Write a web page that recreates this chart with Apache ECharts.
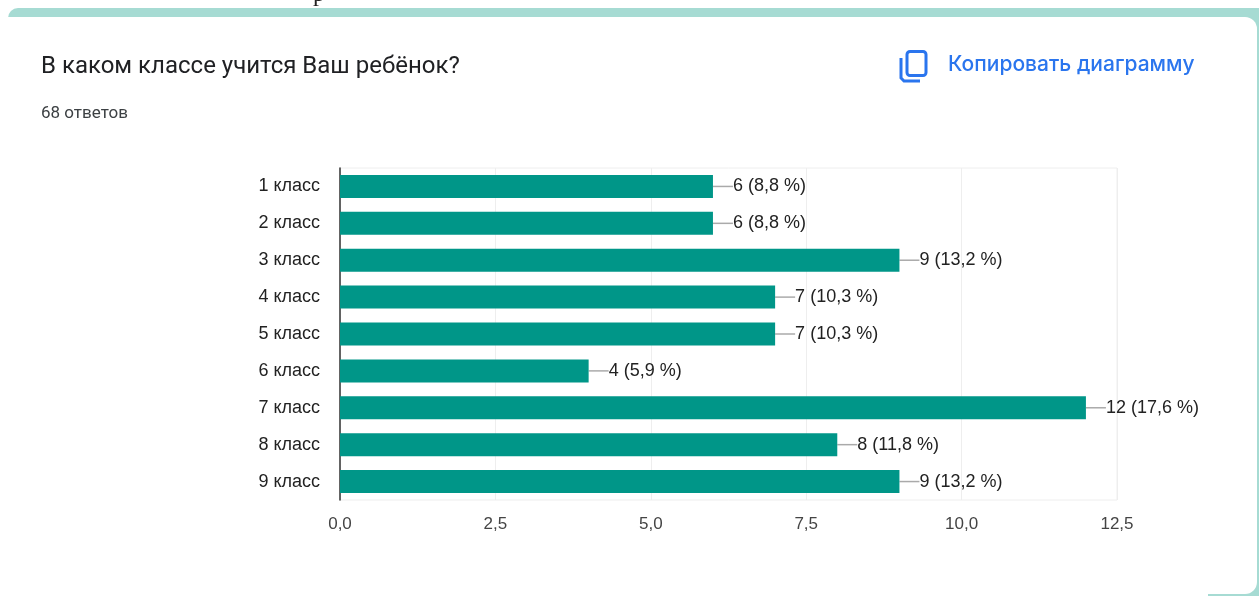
<!DOCTYPE html>
<html>
<head>
<meta charset="utf-8">
<style>
  html, body { margin: 0; padding: 0; background: #fff; }
  #chart { width: 1259px; height: 596px; }
</style>
<script src="https://cdn.jsdelivr.net/npm/echarts@6/dist/echarts.min.js"></script>
</head>
<body>
<div id="chart"></div>
<script>
var categories = ["1 класс", "2 класс", "3 класс", "4 класс", "5 класс", "6 класс", "7 класс", "8 класс", "9 класс"];
var answers = [6, 6, 9, 7, 7, 4, 12, 8, 9];
var percents = ["8,8", "8,8", "13,2", "10,3", "10,3", "5,9", "17,6", "11,8", "13,2"];
var titleText = "В каком классе учится Ваш ребёнок?";
var subtitleText = "68 ответов";
var copyText = "Копировать диаграмму";

var myChart = echarts.init(document.getElementById("chart"), null, { renderer: "canvas" });

var blue = "#2a75ee";

var option = {
  animation: false,
  backgroundColor: "#fff",
  textStyle: { fontFamily: "Liberation Sans" },
  title: [
    {
      text: titleText,
      left: 41,
      top: 55,
      padding: 0,
      textStyle: { fontFamily: "Roboto", fontSize: 24, fontWeight: 400, color: "#202124" }
    },
    {
      text: subtitleText,
      left: 41,
      top: 105,
      padding: 0,
      textStyle: { fontFamily: "Roboto", fontSize: 17, fontWeight: 400, color: "#3c4043" }
    }
  ],
  graphic: [
    // карточка формы
    { type: "rect", z: -10, shape: { x: 8, y: 8, width: 1260, height: 600, r: [10, 0, 0, 0] }, style: { fill: "#a6dbd3" } },
    { type: "rect", z: -9, shape: { x: 8, y: 17, width: 1249, height: 577, r: [0, 12, 12, 0] }, style: { fill: "#fff" } },
    { type: "rect", z: -9, shape: { x: 0, y: 18, width: 8, height: 578 }, style: { fill: "#fff" } },
    { type: "rect", z: -9, shape: { x: 8, y: 590, width: 1200, height: 6 }, style: { fill: "#fff" } },
    // значок копирования
    { type: "rect", z: 5, shape: { x: 907, y: 51.5, width: 19, height: 24, r: 3 }, style: { fill: "none", stroke: blue, lineWidth: 3 } },
    { type: "polyline", z: 5, shape: { points: [[901, 58], [901, 78], [904, 81], [920, 81]] }, style: { fill: "none", stroke: blue, lineWidth: 3 } },
    {
      type: "text", z: 5, x: 948, y: 54,
      style: { text: copyText, fill: blue, font: "500 21px 'Inter'", width: 262 }
    },
    // обрезанный край строки над карточкой
    {
      type: "text", z: -8, x: 313, y: -17,
      style: { text: "р", fill: "#222", font: "24px 'Liberation Serif'" }
    }
  ],
  grid: {
    left: 340,
    right: 142,
    top: 168,
    bottom: 96,
    show: true,
    borderColor: "#eeeeee",
    borderWidth: 1,
    backgroundColor: "transparent"
  },
  xAxis: {
    type: "value",
    min: 0,
    max: 12.5,
    interval: 2.5,
    axisLine: { show: false },
    axisTick: { show: false },
    splitLine: { show: true, lineStyle: { color: "#eeeeee", width: 1 } },
    axisLabel: {
      margin: 16,
      fontSize: 17,
      color: "#444",
      fontFamily: "Liberation Sans",
      formatter: function (v) {
        return v.toFixed(1).replace(".", ",");
      }
    }
  },
  yAxis: {
    type: "category",
    inverse: true,
    data: categories,
    axisTick: { show: false },
    axisLine: { show: true, lineStyle: { color: "#333", width: 1.5 } },
    axisLabel: { margin: 20, fontSize: 18, color: "#222", fontFamily: "Liberation Sans" }
  },
  series: [
    {
      type: "bar",
      data: answers,
      barWidth: 23,
      itemStyle: { color: "#009688" },
      label: {
        show: true,
        position: "right",
        distance: 0,
        fontSize: 18,
        color: "#222",
        fontFamily: "Liberation Sans",
        formatter: function (p) {
          return p.value + " (" + percents[p.dataIndex] + " %)";
        }
      },
      labelLayout: { dx: 20 },
      labelLine: { show: true, lineStyle: { color: "#aaa", width: 1.5 } }
    }
  ]
};

myChart.setOption(option);
</script>
</body>
</html>
